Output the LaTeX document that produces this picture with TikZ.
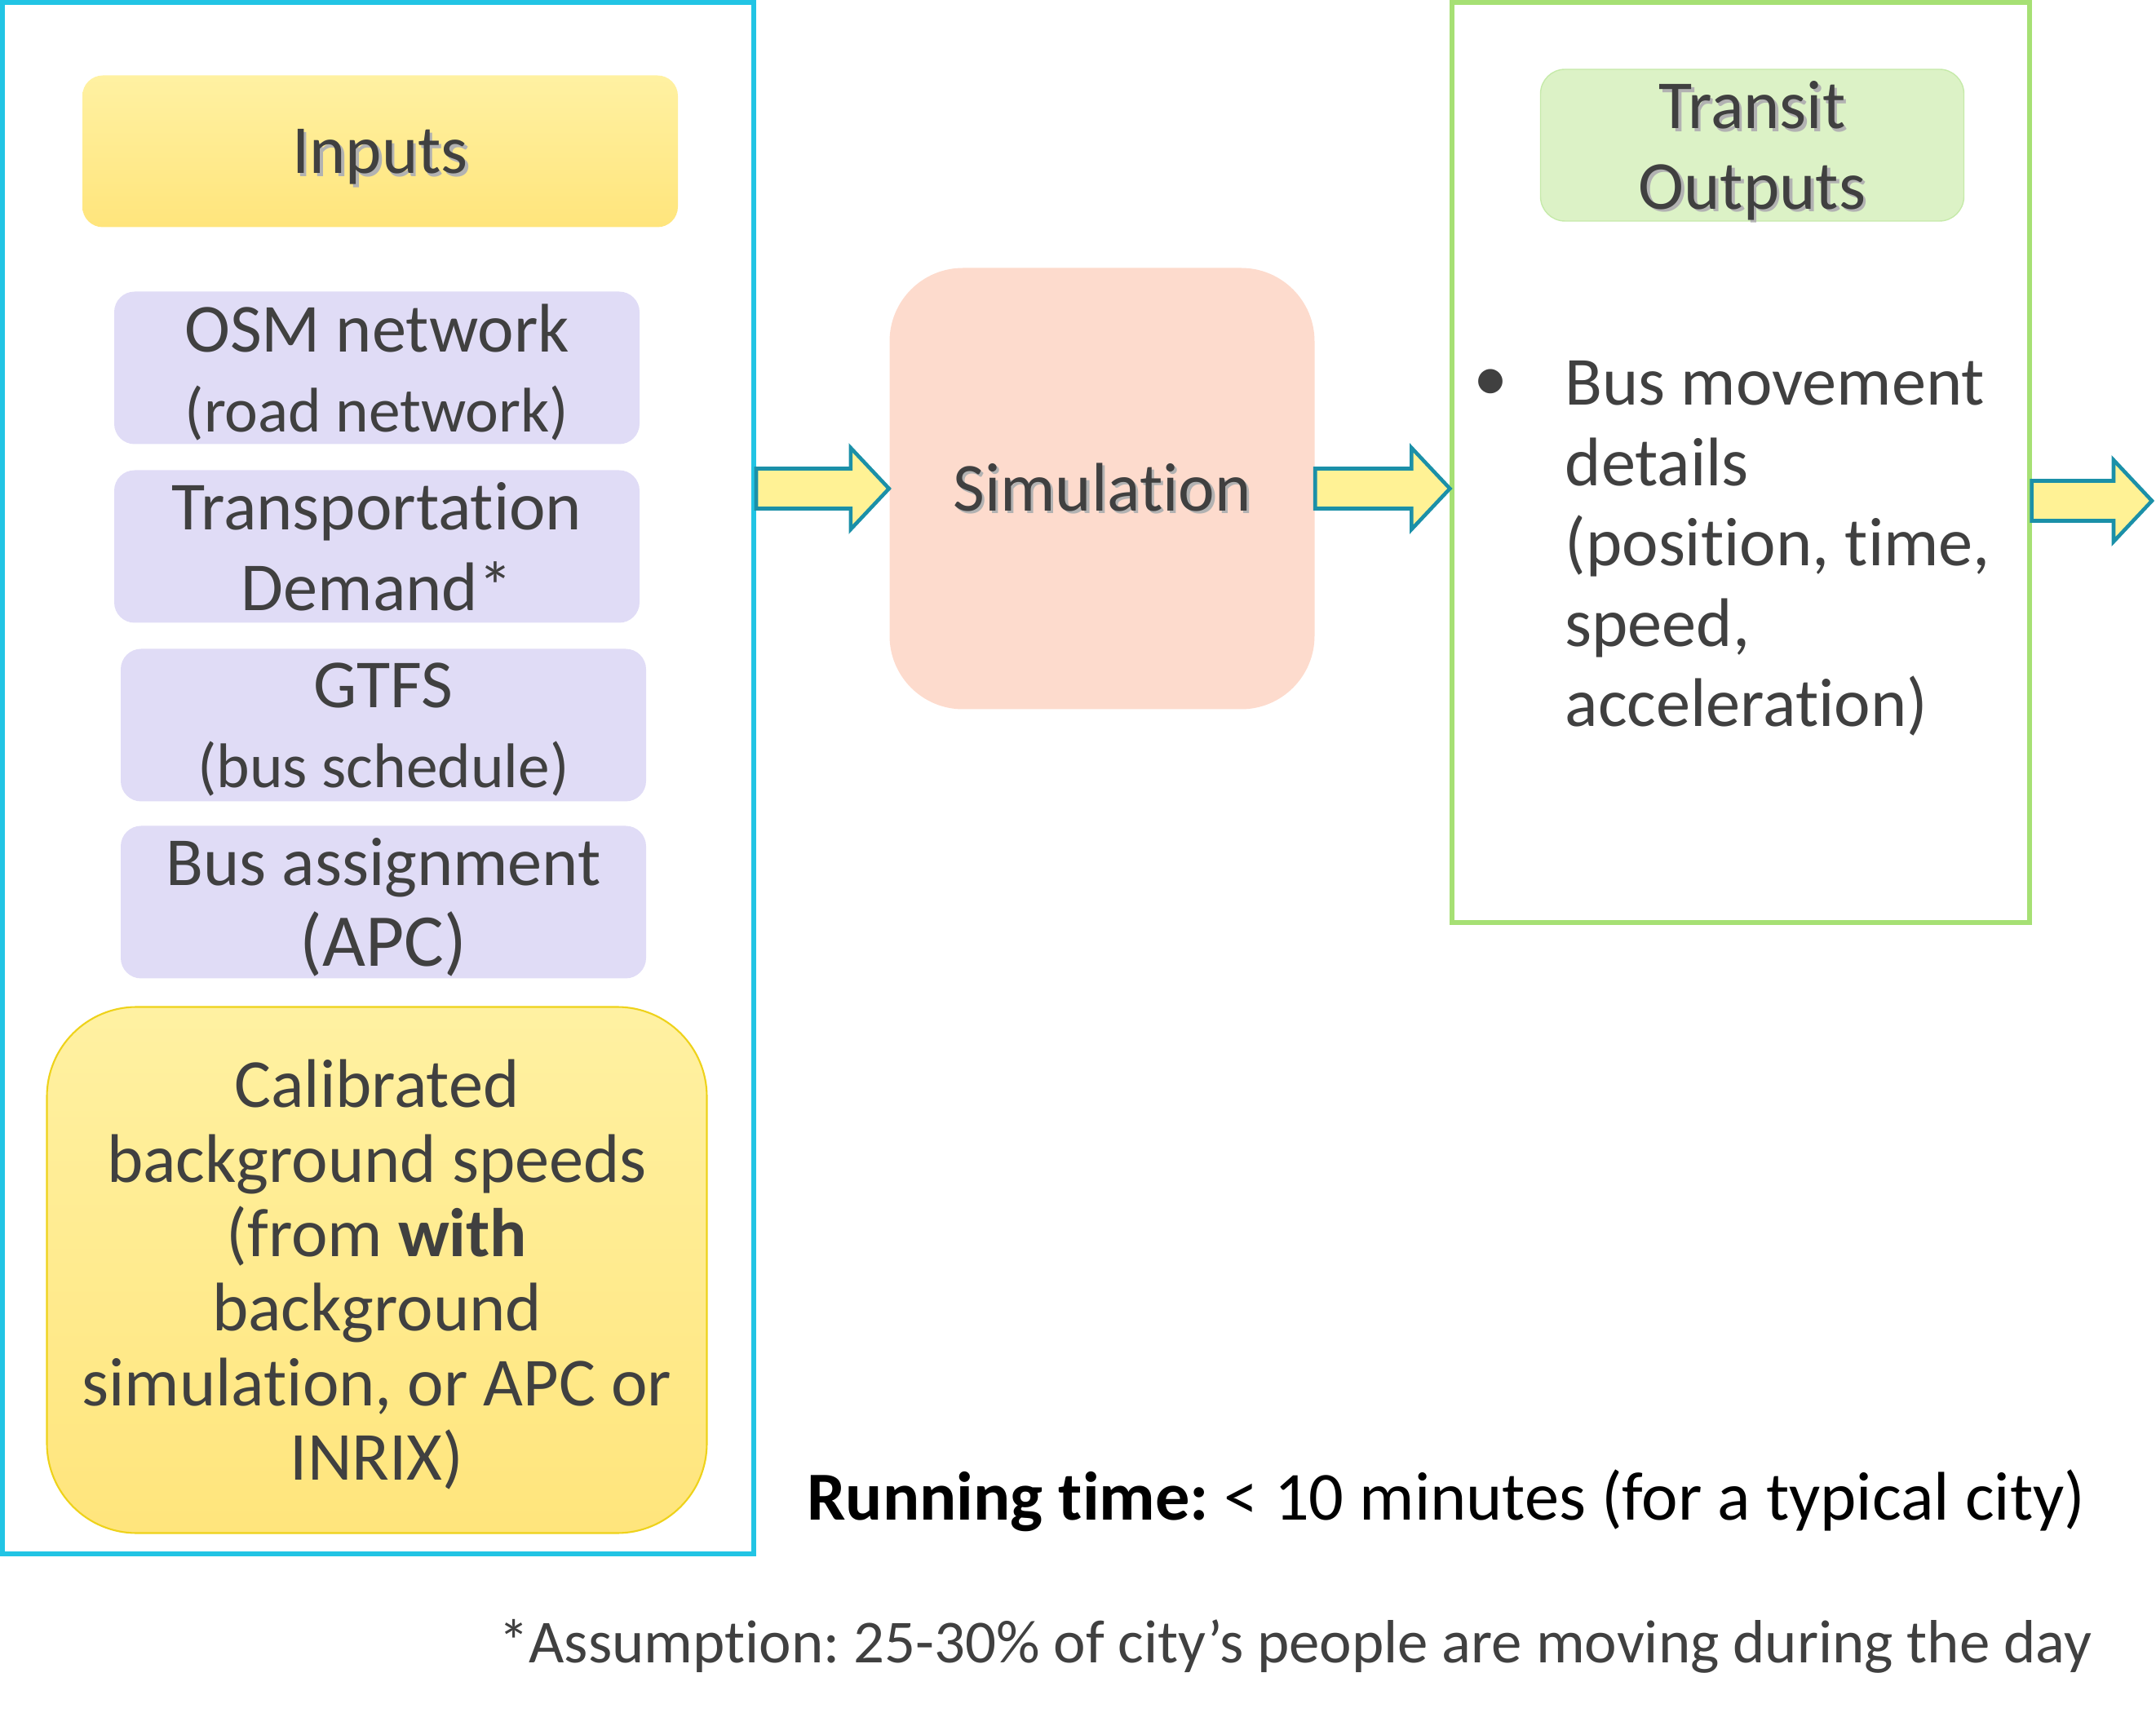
\documentclass[tikz,border=0pt]{standalone}
\usepackage{fontspec}
\setmainfont{Carlito}[Ligatures=NoCommon]
\usepackage{tikz}
\usetikzlibrary{positioning,calc}

\definecolor{framecyan}{HTML}{22C4E4}
\definecolor{framegreen}{HTML}{A6E074}
\definecolor{yellowtop}{HTML}{FFF1A2}
\definecolor{yellowbot}{HTML}{FFE57C}
\definecolor{goldline}{HTML}{EED21A}
\definecolor{lavender}{HTML}{E0DCF6}
\definecolor{peach}{HTML}{FDDBCD}
\definecolor{mint}{HTML}{DCF2C6}
\definecolor{mintline}{HTML}{C6EAAA}
\definecolor{arrowfill}{HTML}{FFF295}
\definecolor{arrowline}{HTML}{1B90A8}
\definecolor{textgrey}{HTML}{404040}

% text with a soft drop shadow
\newcommand{\shtext}[1]{\leavevmode\rlap{\kern1pt\raisebox{-1pt}{\textcolor{black!30}{#1}}}#1}

\tikzset{
  panel/.style={draw,rectangle,line width=1.7pt},
  title/.style={rectangle,rounded corners=0.25cm,text=textgrey,align=center,
    font=\fontsize{24}{28}\selectfont,text depth=0pt,minimum height=1.86cm},
  inputbox/.style={rectangle,rounded corners=0.25cm,fill=lavender,text=textgrey,
    align=center,font=\fontsize{24}{28}\selectfont,text depth=0pt,
    minimum width=6.44cm,minimum height=1.87cm},
  note/.style={anchor=east,inner sep=0pt},
  blockarrow/.style={draw=arrowline,fill=arrowfill,line width=1.3pt,line join=miter}
}

% block arrow from the height of #1 to the tip #2
\newcommand{\blockarrow}[2]{%
  \draw[blockarrow] let \p1=(#1), \p2=(#2) in
    (\x1,\y1+0.245cm) -- (\x2-0.47cm,\y1+0.245cm) -- (\x2-0.47cm,\y1+0.5cm) --
    (\x2,\y1) -- (\x2-0.47cm,\y1-0.5cm) -- (\x2-0.47cm,\y1-0.245cm) --
    (\x1,\y1-0.245cm) -- cycle;}

\begin{document}
\frenchspacing
\begin{tikzpicture}
  \useasboundingbox (0,0) rectangle (26.43,-21.05);

  % frames
  \node[panel,draw=framecyan,minimum width=9.21cm,minimum height=19.02cm] (inframe) at (4.635,-9.54) {};
  \node[panel,draw=framegreen,line width=1.5pt,minimum width=7.08cm,minimum height=11.28cm] (outframe) at (21.34,-5.67) {};

  % inputs
  \node[title,top color=yellowtop,bottom color=yellowbot,minimum width=7.30cm] (inputs) at (4.66,-1.855) {\shtext{Inputs}};
  \node[inputbox] (osm) at (4.62,-4.51) {OSM network\\{\fontsize{22}{26}\selectfont(road network)}};
  \node[inputbox] (demand) at (4.62,-6.70) {Transportation\\Demand*};
  \node[inputbox] (gtfs) at (4.70,-8.89) {GTFS\\{\fontsize{22}{26}\selectfont(bus schedule)}};
  \node[inputbox] (assign) at (4.70,-11.06) {Bus assignment\\{\fontsize{26}{30}\selectfont(APC)}};
  \node[rectangle,rounded corners=1.1cm,top color=yellowtop,bottom color=yellowbot,draw=goldline,line width=0.6pt,
    minimum width=8.09cm,minimum height=6.45cm,align=center,text=textgrey,text depth=0pt,font=\fontsize{24}{26}\selectfont]
    (calib) at (4.62,-15.57) {Calibrated\\background speeds\\(from \textbf{with}\\background\\simulation, or APC or\\INRIX)};

  % simulation
  \node[rectangle,rounded corners=0.9cm,fill=peach,minimum width=5.21cm,minimum height=5.41cm,
    text=textgrey,font=\fontsize{24}{28}\selectfont] (sim) at (13.51,-5.99) {\shtext{Simulation}};

  % outputs
  \node[title,fill=mint,draw=mintline,rounded corners=0.3cm,minimum width=5.19cm] (transit) at (21.48,-1.78) {\shtext{Transit}\\\shtext{Outputs}};
  \node[text=textgrey,font=\fontsize{24}{28}\selectfont] (bullet) at (18.27,-4.72) {\textbullet};
  \node[anchor=north west,inner sep=0pt,align=left,text=textgrey,font=\fontsize{24}{28}\selectfont]
    (details) at (19.18,-4.42) {Bus movement\\details\\(position, time,\\speed,\\acceleration)};
  \coordinate (next) at (26.38,-6.14);

  % arrows
  \blockarrow{inframe.east |- sim.west}{sim.west}
  \blockarrow{sim.east}{outframe.west |- sim.east}
  \blockarrow{outframe.east |- next}{next}

  % notes
  \node[note,font=\fontsize{24}{28}\selectfont] (runtime) at (25.57,-18.40) {\textbf{Running time:} < 10 minutes (for a typical city)};
  \node[note,text=textgrey,font=\fontsize{21.3}{25}\selectfont] (assume) at (25.65,-20.18) {*Assumption: 25-30\% of city’s people are moving during the day};
\end{tikzpicture}
\end{document}
